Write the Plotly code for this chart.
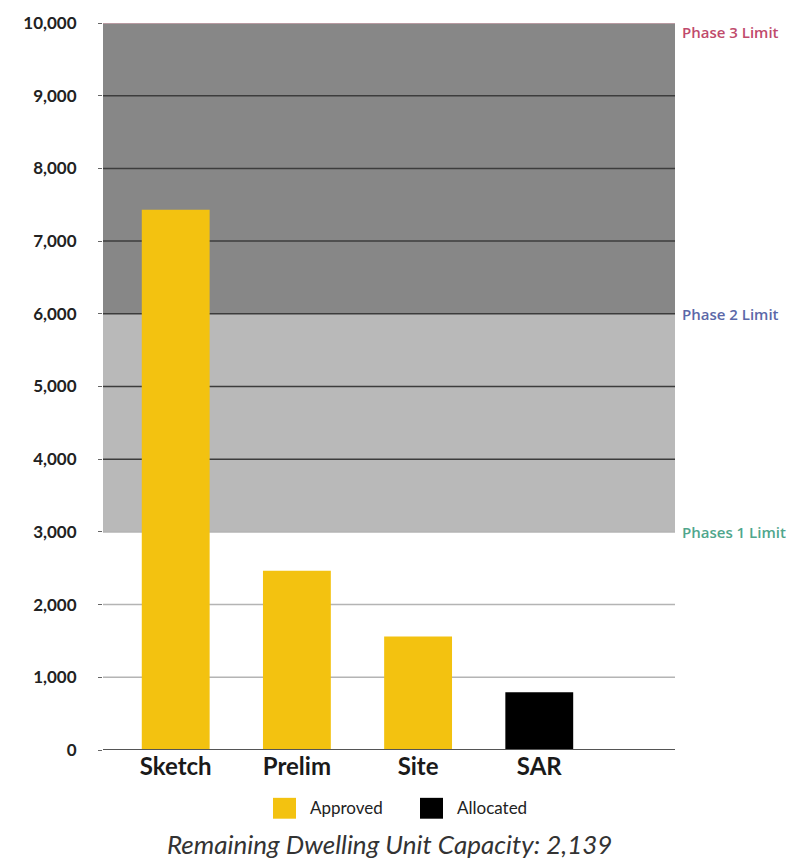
import plotly.graph_objects as go

categories = ["Sketch", "Prelim", "Site", "SAR"]
approved_cats = ["Sketch", "Prelim", "Site"]
approved_vals = [7430, 2465, 1560]
allocated_cats = ["SAR"]
allocated_vals = [795]
y_ticks = [0, 1000, 2000, 3000, 4000, 5000, 6000, 7000, 8000, 9000, 10000]
phase_limits = [3000, 6000, 10000]
phase_labels = ["Phases 1 Limit", "Phase 2 Limit", "Phase 3 Limit"]
phase_colors = ["#4fa68c", "#5b68a8", "#c04a6c"]
remaining_text = "Remaining Dwelling Unit Capacity: 2,139"
series_names = ["Approved", "Allocated"]
series_colors = ["#F3C210", "#000000"]

FONT = "Lato"
fig = go.Figure()
fig.add_trace(go.Bar(x=approved_cats, y=approved_vals, name=series_names[0],
                     marker=dict(color=series_colors[0], line=dict(width=0)), width=0.56))
fig.add_trace(go.Bar(x=allocated_cats, y=allocated_vals, name=series_names[1],
                     marker=dict(color=series_colors[1], line=dict(width=0)), width=0.56))

# phase bands
fig.add_shape(type="rect", xref="paper", x0=0, x1=1, yref="y", y0=phase_limits[1], y1=phase_limits[2],
              fillcolor="#878787", line=dict(width=0), layer="below")
fig.add_shape(type="rect", xref="paper", x0=0, x1=1, yref="y", y0=phase_limits[0], y1=phase_limits[1],
              fillcolor="#b9b9b9", line=dict(width=0), layer="below")

# gridlines
for v in y_ticks[1:-1]:
    col = "#3c3c3c" if v > phase_limits[0] else "#b4b4b4"
    fig.add_shape(type="line", xref="paper", x0=0, x1=1, yref="y", y0=v, y1=v,
                  line=dict(color=col, width=1.5), layer="between")
fig.add_shape(type="line", xref="paper", x0=0, x1=1, yref="y", y0=0, y1=0,
              line=dict(color="#555555", width=2), layer="above")
fig.add_shape(type="line", xref="paper", x0=0, x1=1, yref="y", y0=phase_limits[2], y1=phase_limits[2],
              line=dict(color="#c8a0aa", width=1.5), layer="between")

for v, lab, col in zip(phase_limits, phase_labels, phase_colors):
    fig.add_annotation(x=1, xref="paper", xanchor="left", xshift=5, y=v, yref="y",
                       yshift=-9 if v == phase_limits[2] else 0,
                       text=lab, showarrow=False,
                       font=dict(family="Open Sans", size=15, color=col, weight=600))

# legend (drawn manually for larger swatches)
leg_x = [0.2972, 0.5542]
for xx, name, col in zip(leg_x, series_names, series_colors):
    fig.add_shape(type="rect", xref="paper", yref="paper", x0=xx, x1=xx + 0.0402,
                  y0=-0.0945, y1=-0.0658, fillcolor=col, line=dict(width=0))
    fig.add_annotation(x=xx + 0.0402, xref="paper", xanchor="left", xshift=12,
                       y=-0.0795, yref="paper", yanchor="middle", text=name, showarrow=False,
                       font=dict(family=FONT, size=17, color="#222222"))

fig.add_annotation(x=0.50, xref="paper", y=-0.129, yref="paper", yanchor="middle",
                   text="<i>" + remaining_text + "</i>", showarrow=False,
                   font=dict(family=FONT, size=26, color="#333333"))

fig.update_layout(
    width=808, height=866,
    margin=dict(l=103, r=133, t=20, b=116),
    plot_bgcolor="white", paper_bgcolor="white",
    barmode="overlay", showlegend=False,
    font=dict(family=FONT),
)
fig.update_xaxes(categoryorder="array", categoryarray=categories, range=[-0.6, 4.12],
                 showgrid=False, showline=False, ticks="",
                 tickfont=dict(family=FONT, size=24, color="#1a1a1a", weight="bold"))
fig.update_yaxes(range=[0, 10000], tickvals=y_ticks, tickformat=",", showgrid=False,
                 zeroline=False, showline=False, ticks="outside", ticklen=4, tickcolor="#666666",
                 ticklabelstandoff=18,
                 tickfont=dict(family=FONT, size=17, color="#222222", weight="bold"))

fig.write_html("out.html")
